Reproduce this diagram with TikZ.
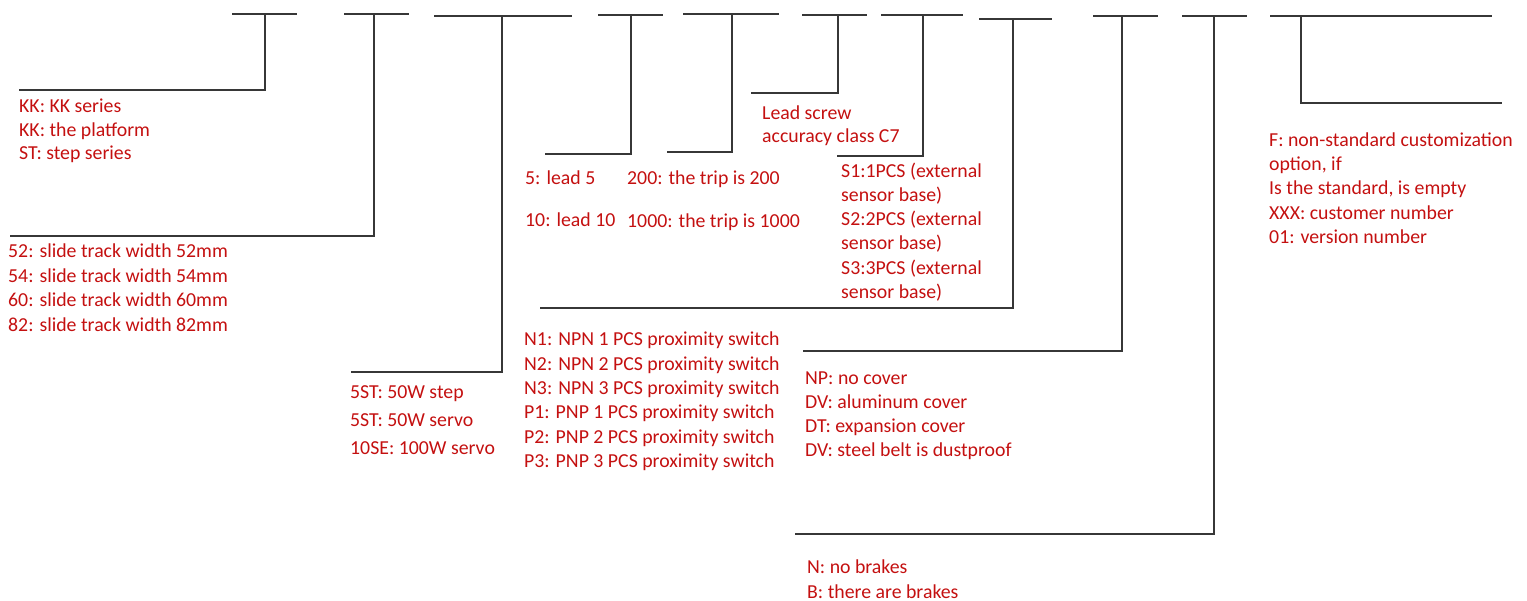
\documentclass[tikz,border=0pt]{standalone}
\usepackage{fontspec}
\setmainfont{Carlito}
\definecolor{lblred}{RGB}{196,16,16}
\definecolor{linegray}{RGB}{55,55,55}
\tikzset{
  lbl/.style={anchor=base west, inner sep=0pt, text=lblred, font=\fontsize{19.8}{23}\selectfont},
  brk/.style={draw=linegray, line width=1.5pt}
}
\newcommand\lbltxt[4]{\node[lbl] (#1) at (#2,#3) {#4};}
\begin{document}
\begin{tikzpicture}[x=1pt,y=-1pt]
\useasboundingbox (0,0) rectangle (1527,601);
% ---- bracket coordinates: top-left, top-right, vertical top, horizontal end
\coordinate (a1) at (232,14);  \coordinate (b1) at (297,14);  \coordinate (v1) at (265,14);  \coordinate (e1) at (19,90);
\coordinate (a2) at (344,14);  \coordinate (b2) at (409,14);  \coordinate (v2) at (374,14);  \coordinate (e2) at (10,236);
\coordinate (a3) at (434,16);  \coordinate (b3) at (572,16);  \coordinate (v3) at (502,16);  \coordinate (e3) at (351,372);
\coordinate (a4) at (598,15);  \coordinate (b4) at (663,15);  \coordinate (v4) at (631,15);  \coordinate (e4) at (545,154);
\coordinate (a5) at (683,14);  \coordinate (b5) at (779,14);  \coordinate (v5) at (732,14);  \coordinate (e5) at (667,152);
\coordinate (a6) at (802,15);  \coordinate (b6) at (867,15);  \coordinate (v6) at (838,15);  \coordinate (e6) at (751,93);
\coordinate (a7) at (881,15);  \coordinate (b7) at (963,15);  \coordinate (v7) at (923,15);  \coordinate (e7) at (837,156);
\coordinate (a8) at (979,19);  \coordinate (b8) at (1052,19); \coordinate (v8) at (1013,19); \coordinate (e8) at (540,308);
\coordinate (a9) at (1093,16); \coordinate (b9) at (1158,16); \coordinate (v9) at (1122,16); \coordinate (e9) at (803,351);
\coordinate (a10) at (1182,16); \coordinate (b10) at (1247,16); \coordinate (v10) at (1214,16); \coordinate (e10) at (795,534);
\coordinate (a11) at (1270,16); \coordinate (b11) at (1492,16); \coordinate (v11) at (1301,16); \coordinate (e11) at (1502,103);
\foreach \i in {1,...,11}{
  \draw[brk] (a\i) -- (b\i);
  \draw[brk] (v\i) |- (e\i);
}
% ---- labels
\lbltxt{k1}{19}{113}{KK: KK series}
\lbltxt{k2}{19}{136.5}{KK: the platform}
\lbltxt{k3}{19}{160}{ST: step series}
\lbltxt{w1}{8}{258}{52: slide track width 52mm}
\lbltxt{w2}{8}{282.5}{54: slide track width 54mm}
\lbltxt{w3}{8}{307}{60: slide track width 60mm}
\lbltxt{w4}{8}{331.5}{82: slide track width 82mm}
\lbltxt{m1}{350}{399}{5ST: 50W step}
\lbltxt{m2}{350}{427}{5ST: 50W servo}
\lbltxt{m3}{350}{455}{10SE: 100W servo}
\lbltxt{l1}{525}{185}{5: lead 5}
\lbltxt{l2}{525}{227}{10: lead 10}
\lbltxt{t1}{627}{185}{200: the trip is 200}
\lbltxt{t2}{627}{228}{1000: the trip is 1000}
\lbltxt{c1}{762}{120}{Lead screw}
\lbltxt{c2}{762}{143}{accuracy class C7}
\lbltxt{s1}{841}{178}{S1:1PCS (external}
\lbltxt{s2}{841}{202}{sensor base)}
\lbltxt{s3}{841}{226}{S2:2PCS (external}
\lbltxt{s4}{841}{250}{sensor base)}
\lbltxt{s5}{841}{275}{S3:3PCS (external}
\lbltxt{s6}{841}{299}{sensor base)}
\lbltxt{n1}{524}{346}{N1: NPN 1 PCS proximity switch}
\lbltxt{n2}{524}{371}{N2: NPN 2 PCS proximity switch}
\lbltxt{n3}{524}{395}{N3: NPN 3 PCS proximity switch}
\lbltxt{n4}{524}{419}{P1: PNP 1 PCS proximity switch}
\lbltxt{n5}{524}{444}{P2: PNP 2 PCS proximity switch}
\lbltxt{n6}{524}{468}{P3: PNP 3 PCS proximity switch}
\lbltxt{d1}{805}{385}{NP: no cover}
\lbltxt{d2}{805}{409}{DV: aluminum cover}
\lbltxt{d3}{805}{433}{DT: expansion cover}
\lbltxt{d4}{805}{457}{DV: steel belt is dustproof}
\lbltxt{r1}{807}{573}{N: no brakes}
\lbltxt{r2}{807}{598}{B: there are brakes}
\lbltxt{f1}{1269}{147}{F: non-standard customization}
\lbltxt{f2}{1269}{171}{option, if}
\lbltxt{f3}{1269}{195}{Is the standard, is empty}
\lbltxt{f4}{1269}{220}{XXX: customer number}
\lbltxt{f5}{1269}{244}{01: version number}
\end{tikzpicture}
\end{document}
